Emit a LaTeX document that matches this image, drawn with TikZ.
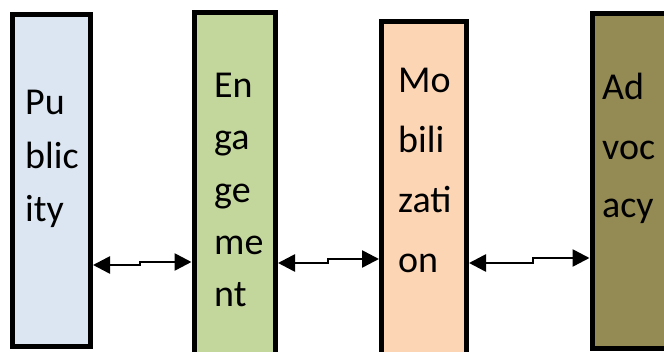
\documentclass[tikz,border=0pt]{standalone}
\usepackage{fontspec}
\setmainfont{Carlito}
\usetikzlibrary{arrows.meta}
\definecolor{pubblue}{HTML}{DCE6F2}
\definecolor{enggreen}{HTML}{C3D69B}
\definecolor{mobpeach}{HTML}{FCD5B5}
\definecolor{advolive}{HTML}{948A54}
\tikzset{
  stage/.style={draw=black, line width=5pt, rectangle, inner sep=0pt},
  word/.style={anchor=base west, inner sep=0pt, font=\fontsize{38}{44}\selectfont},
  link/.style={line width=2.6pt, {Triangle[length=17pt,width=17pt]}-{Triangle[length=17pt,width=17pt]}}
}
\begin{document}
\begin{tikzpicture}[x=1pt, y=1pt]
\useasboundingbox (0,0) rectangle (664,352);
\clip (0,0) rectangle (664,352);
\fill[white] (0,0) rectangle (664,352);

% the four stages
\node[stage, fill=pubblue,  minimum width=78pt,  minimum height=332.3pt] (b1) at (51.5,171.65) {};
\node[stage, fill=enggreen, minimum width=81.5pt, minimum height=359.5pt] (b2) at (234.75,159.75) {};
\node[stage, fill=mobpeach, minimum width=85pt,  minimum height=350.5pt] (b3) at (424,155.25) {};
\node[stage, fill=advolive, minimum width=108pt, minimum height=335pt] (b4) at (646,171) {};

% broken labels
\node[word] (t11) at (25,237) {Pu};
\node[word] (t12) at (25,183) {blic};
\node[word] (t13) at (25,130) {ity};

\node[word] (t21) at (214,254) {En};
\node[word] (t22) at (214,202) {ga};
\node[word] (t23) at (214,149) {ge};
\node[word] (t24) at (214,97) {me};
\node[word] (t25) at (214,45) {nt};

\node[word] (t31) at (398,259) {Mo};
\node[word] (t32) at (398,199) {bili};
\node[word] (t33) at (398,139) {zati};
\node[word] (t34) at (398,79) {on};

\node[word] (t41) at (602,252) {Ad};
\node[word] (t42) at (602,192) {voc};
\node[word] (t43) at (602,134) {acy};

% two-way connectors with a small step halfway
\draw[link] (b1.east |- 0,87) -- (140,87) -- (140,90) -- (b2.west |- 0,90);
\draw[link] (b2.east |- 0,89) -- (328,89) -- (328,93) -- (b3.west |- 0,93);
\draw[link] (b3.east |- 0,89) -- (533,89) -- (533,94) -- (b4.west |- 0,94);
\end{tikzpicture}
\end{document}
